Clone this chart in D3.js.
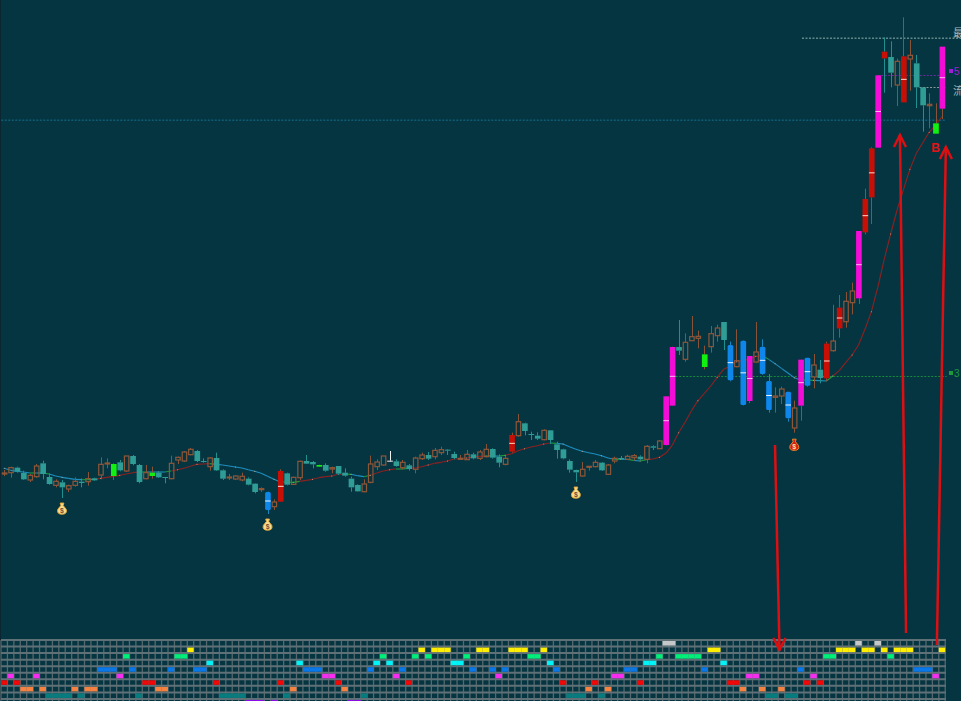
<!DOCTYPE html>
<html lang="zh">
<head>
    <meta charset="UTF-8">
    <title>K线图</title>
    <script src="https://d3js.org/d3.v7.min.js"></script>
    <style>
        body { margin: 0; padding: 0; background-color: #063542; overflow: hidden; }
        svg { display: block; }
        .side-label { font-family: 'Noto Sans CJK SC', sans-serif; font-size: 11px; }
    </style>
</head>
<body>
    <div id="chart"></div>
    <script>
        // candles, one entry per trading slot
        const opens = [
            498,502,517,501,480,490,530,489,464,473,
            453,464,475,475,485,495,528,492,533,507,
            552,525,484,492,502,489,484,540,537,556,
            567,537,520,546,509,487,483,480,484,469,
            451,444,400,415,500,467,487,537,534,520,
            525,513,522,502,484,465,445,473,520,525,
            535,536,517,524,512,544,555,550,562,571,
            558,542,541,557,545,550,573,550,527,565,
            613,650,618,613,601,629,587,572,537,510,
            492,518,520,532,497,537,546,542,547,550,
            542,581,574,585,703,879,842,898,905,819,
            880,913,954,885,820,898,717,834,880,777,
            728,732,745,636,703,847,789,811,785,868,
            935,955,1012,1025,1223,1328,1477,1745,1749,1665,
            1613,1743,1730,1658,1603,1519,1594
        ];
        const closes = [
            501,517,505,482,494,522,498,468,476,458,
            463,476,471,484,479,527,531,528,509,552,
            528,474,502,502,488,486,530,548,564,572,
            537,534,546,509,484,489,492,491,466,444,
            454,390,414,507,466,488,536,529,527,525,
            508,517,499,493,458,446,468,528,534,552,
            538,522,533,513,546,555,544,569,571,568,
            546,545,557,545,564,572,547,532,545,615,
            655,627,615,604,629,600,570,545,511,503,
            512,521,533,509,525,545,543,551,553,542,
            581,577,597,731,879,868,893,910,911,857,
            919,936,900,779,838,705,852,864,798,690,
            732,753,665,696,841,763,825,786,889,897,
            997,1016,1047,1227,1323,1475,1694,1765,1702,1736,
            1751,1754,1658,1604,1607,1550,1780
        ];
        const highs = [
            510,520,520,508,498,528,538,500,482,480,
            466,488,485,504,487,548,545,530,540,552,
            555,528,525,520,505,489,553,550,567,576,
            570,545,548,562,512,498,494,502,488,470,
            458,445,422,512,502,490,538,555,537,526,
            530,520,522,515,490,467,482,553,542,552,
            567,542,540,528,550,562,564,576,580,573,
            565,555,570,562,570,588,575,557,552,622,
            678,652,625,623,632,630,595,574,542,511,
            534,521,540,534,528,550,552,556,558,554,
            585,584,600,732,880,960,920,972,928,883,
            942,946,954,895,932,899,852,954,902,798,
            758,760,745,718,842,847,858,840,895,1006,
            1035,1044,1072,1227,1354,1478,1695,1808,1796,1744,
            1868,1800,1755,1658,1640,1610,1780
        ];
        const lows = [
            492,487,502,480,474,487,482,466,458,426,
            444,460,458,463,477,482,515,480,506,504,
            524,470,482,484,486,470,482,528,534,554,
            534,532,508,507,480,480,480,476,464,440,
            444,378,390,414,464,465,480,528,515,519,
            505,500,495,490,445,445,443,470,510,523,
            534,520,512,508,500,540,540,542,555,555,
            542,540,540,542,540,548,544,518,524,562,
            610,614,600,600,599,588,544,542,502,474,
            490,508,518,507,495,530,540,540,538,540,
            530,570,573,584,702,855,835,898,875,812,
            862,895,870,776,818,704,710,832,796,682,
            682,708,655,622,658,760,755,770,776,865,
            907,937,977,1008,1217,1248,1476,1642,1658,1602,
            1613,1648,1596,1525,1535,1519,1563
        ];
        // moving average
        const avgLine = [
            515,509,506,504,501,501,501,498,492,488,
            485,482,481,481,482,485,488,491,494,498,
            502,504,504,504,504,504,507,511,515,521,
            527,528,529,527,525,522,519,516,511,506,
            500,491,482,474,474,473,476,479,482,487,
            490,492,497,498,497,493,490,494,501,507,
            511,513,513,515,516,520,525,530,533,537,
            543,544,546,549,551,552,552,552,554,559,
            568,574,579,583,588,591,590,588,580,572,
            566,562,558,553,546,542,542,542,539,537,
            541,543,548,560,584,622,653,688,718,740,
            762,788,812,821,835,839,842,851,853,842,
            829,815,801,787,780,780,779,778,777,792,
            808,832,855,885,932,985,1058,1142,1218,1290,
            1352,1412,1460,1492,1523,1545,1570
        ];

        // special candle classes
        const blueBars = [41,113,115,118,119,122,125];
        const magentaBars = [103,104,116,124,133,136,146];
        const redBars = [43,79,128,130,134,135,137,140];
        const greenBars = [17,23,49,109,145];
        const whiteBars = [60];
        const tealWickBars = [137];
        const bagSlots = [9,41,89];
        const redBagSlots = [123];

        // price levels: value, first slot, last slot
        const levelValues = [1807,1695,1659,1561,792];
        const levelFrom = [124.2,136,142.5,-1,104];
        const levelTo = [150,146.5,146.5,146.5,146.7];
        const levelNames = ["white","purple","grey","blue","green"];

        // hand drawn arrows: slot and value at tail and tip
        const arrowTails = [[120,585],[140.4,21],[145.2,-15]];
        const arrowTips = [[120.7,-30],[139.45,1515],[146.6,1479]];

        // strip rows at the bottom, slots switched on in each row
        const stripGrey = [103,104,133,136];
        const stripYellow = [29,65,67,68,69,74,75,79,80,81,84,110,111,130,131,132,134,135,137,139,140,141,146];
        const stripGreen = [19,27,28,59,64,66,72,82,83,102,105,106,107,108,128,129,138];
        const stripCyan = [32,46,58,60,70,71,85,100,101,112];
        const stripBlue = [15,16,17,20,26,30,31,47,48,49,57,62,73,76,78,86,97,98,109,124,142,143,144];
        const stripMagenta = [1,5,18,50,51,61,77,95,96,116,117,126,145];
        const stripRed = [0,2,22,23,33,43,52,63,87,92,99,113,114,125,127];
        const stripOrange = [3,4,6,11,13,14,24,25,45,53,91,94,115,118,121];
        const stripTeal = [7,8,9,10,12,21,34,35,36,37,44,56,88,89,90,93,119,120,122,123];
        const stripPurple = [38,39,40,42,54,55];
        const stripRows = [stripGrey, stripYellow, stripGreen, stripCyan, stripBlue, stripMagenta, stripRed, stripOrange, stripTeal, stripPurple];

        const stripColors = ["#c4c8c8","#ffee00","#00f07a","#00f4f8","#0a78e8","#f82cf0","#f00808","#f58240","#067c7e","#8a0ae8"];
        const levelColors = { white: "#8fb3ae", purple: "#6a2c9c", grey: "#8a9a9a", blue: "#14708e", green: "#178a3a" };

        const width = 961, height = 701;
        const svg = d3.select("#chart").append("svg").attr("width", width).attr("height", height);

        const x = d3.scaleBand().domain(d3.range(opens.length)).range([1, 946]).padding(0.12);
        const y = d3.scaleLinear().domain([0, 1920]).range([640, 0]);
        const step = x.step();
        // centre of a slot, also for fractional slots
        const cx = i => x.range()[0] + step * (i + 0.5);

        svg.append("rect").attr("width", width).attr("height", height).attr("fill", "#063542");
        svg.append("rect").attr("width", 1).attr("height", height).attr("fill", "#0b2630");

        // level lines
        svg.append("g").selectAll("line")
            .data(levelValues)
            .enter().append("line")
            .attr("x1", (d, i) => cx(levelFrom[i]))
            .attr("x2", (d, i) => cx(levelTo[i]))
            .attr("y1", d => y(d) + 0.5)
            .attr("y2", d => y(d) + 0.5)
            .attr("stroke", (d, i) => levelColors[levelNames[i]])
            .attr("stroke-width", 1)
            .attr("stroke-dasharray", "2,1.5");

        // average line, coloured by direction
        const dirs = d3.range(avgLine.length - 1).map(i => Math.sign(avgLine[i + 1] - avgLine[i]));
        const segColor = i => {
            if (i > 0 && dirs[i] !== dirs[i - 1]) return "#1c9a3c";
            return dirs[i] > 0 ? "#8e2020" : "#1d8fc0";
        };
        svg.append("g").selectAll("line")
            .data(dirs)
            .enter().append("line")
            .attr("x1", (d, i) => cx(i))
            .attr("x2", (d, i) => cx(i + 1))
            .attr("y1", (d, i) => y(avgLine[i]))
            .attr("y2", (d, i) => y(avgLine[i + 1]))
            .attr("stroke", (d, i) => segColor(i))
            .attr("stroke-width", 1.1);
        svg.append("g").selectAll("circle")
            .data(d3.range(avgLine.length).filter(i => i % 3 === 0))
            .enter().append("circle")
            .attr("cx", i => cx(i))
            .attr("cy", i => y(avgLine[i]))
            .attr("r", 0.5)
            .attr("fill", "#d8b890");

        // candles
        const kindOf = i => {
            if (blueBars.includes(i)) return "blue";
            if (magentaBars.includes(i)) return "magenta";
            if (redBars.includes(i)) return "red";
            if (greenBars.includes(i)) return "green";
            if (whiteBars.includes(i)) return "white";
            return closes[i] < opens[i] ? "down" : "up";
        };
        const fills = { blue: "#0e86ea", magenta: "#f20cd6", red: "#c80f06", green: "#12f012", white: "#f0f0f0", down: "#2f9d96", up: "none" };
        const wicks = { blue: "#1a86c0", magenta: "#8a5236", red: "#8a5236", green: "#8a5236", white: "#f0f0f0", down: "#1f8f90", up: "#8a5236" };

        const candles = svg.append("g").selectAll("g")
            .data(d3.range(opens.length))
            .enter().append("g");

        candles.append("path")
            .attr("d", i => {
                const top = y(Math.max(opens[i], closes[i])), bot = y(Math.min(opens[i], closes[i]));
                const c = Math.round(cx(i)) + 0.5;
                return `M${c},${y(highs[i])}V${top}M${c},${bot}V${y(lows[i])}`;
            })
            .attr("fill", "none")
            .attr("stroke", i => tealWickBars.includes(i) ? "#1f8f90" : wicks[kindOf(i)])
            .attr("stroke-width", 1);

        candles.append("rect")
            .attr("x", i => kindOf(i) === "up" ? x(i) + 0.6 : x(i))
            .attr("width", i => kindOf(i) === "up" ? x.bandwidth() - 1.2 : x.bandwidth())
            .attr("y", i => y(Math.max(opens[i], closes[i])))
            .attr("height", i => Math.max(1, Math.abs(y(opens[i]) - y(closes[i]))))
            .attr("rx", i => kindOf(i) === "blue" ? 1.5 : 0)
            .attr("fill", i => fills[kindOf(i)])
            .attr("stroke", i => kindOf(i) === "up" ? "#8f5638" : "none")
            .attr("stroke-width", 1.2);

        // pale tick across the long coloured bars
        const tickColor = { blue: "#e8f4ff", magenta: "#ffb0ee", red: "#ffd8d0" };
        svg.append("g").selectAll("rect")
            .data(d3.range(opens.length).filter(i => tickColor[kindOf(i)] && Math.abs(y(opens[i]) - y(closes[i])) > 12))
            .enter().append("rect")
            .attr("x", i => x(i))
            .attr("width", x.bandwidth())
            .attr("y", i => y((opens[i] + closes[i]) / 2) - 0.5)
            .attr("height", 1)
            .attr("fill", i => tickColor[kindOf(i)]);

        // money bags below the low
        const drawBag = (slots, drop, body, rim, mark) => {
            const bags = svg.append("g").selectAll("g")
                .data(slots)
                .enter().append("g")
                .attr("transform", i => `translate(${cx(i)},${y(lows[i]) + drop}) scale(1.15)`);
            bags.append("path")
                .attr("d", "M-1.6,-5.2L1.6,-5.2L1,-3L3.6,0.2Q5,4.4 0,4.6Q-5,4.4 -3.6,0.2L-1,-3Z")
                .attr("fill", body)
                .attr("stroke", rim)
                .attr("stroke-width", 0.8);
            bags.append("text")
                .attr("y", 3.4)
                .attr("text-anchor", "middle")
                .attr("font-family", "'Liberation Sans', sans-serif")
                .attr("font-size", 6)
                .attr("font-weight", "bold")
                .attr("fill", mark)
                .text("$");
        };
        drawBag(bagSlots, 11, "#f6dc8c", "#e8a838", "#7a4a30");
        drawBag(redBagSlots, 12.5, "#d81a10", "#f0902a", "#ffe0a0");

        svg.append("text")
            .attr("x", cx(145))
            .attr("y", y(lows[145]) + 18)
            .attr("text-anchor", "middle")
            .attr("font-family", "'Liberation Sans', sans-serif")
            .attr("font-size", 12)
            .attr("font-weight", "bold")
            .attr("fill", "#e01414")
            .text("B");

        // bottom strip
        const stripY = d3.scaleBand().domain(d3.range(stripRows.length)).range([640, 705.5]);
        const strip = svg.append("g");
        strip.selectAll("line.v")
            .data(d3.range(opens.length + 1))
            .enter().append("line")
            .attr("class", "v")
            .attr("x1", i => 1 + step * i).attr("x2", i => 1 + step * i)
            .attr("y1", 640).attr("y2", height)
            .attr("stroke", "#56686e").attr("stroke-width", 1.3);
        strip.selectAll("line.h")
            .data(stripY.domain())
            .enter().append("line")
            .attr("class", "h")
            .attr("x1", 1).attr("x2", 946)
            .attr("y1", r => stripY(r)).attr("y2", r => stripY(r))
            .attr("stroke", "#5f7076").attr("stroke-width", 2);
        stripRows.forEach((slots, r) => {
            strip.append("g").selectAll("rect")
                .data(slots)
                .enter().append("rect")
                .attr("x", i => 1 + step * i)
                .attr("width", step)
                .attr("y", stripY(r) + 1)
                .attr("height", stripY.bandwidth() - 2)
                .attr("fill", stripColors[r]);
        });

        // red arrows, over the strip
        const arrows = svg.append("g").attr("stroke", "#dc0f12").attr("fill", "none").attr("stroke-width", 2.5);
        arrows.selectAll("line")
            .data(arrowTails)
            .enter().append("line")
            .attr("x1", d => cx(d[0]))
            .attr("y1", d => y(d[1]))
            .attr("x2", (d, i) => cx(arrowTips[i][0]))
            .attr("y2", (d, i) => y(arrowTips[i][1]));
        arrows.selectAll("path")
            .data(arrowTips)
            .enter().append("path")
            .attr("d", (d, i) => {
                // wings trail back toward the tail
                const dir = arrowTails[i][1] > d[1] ? -1 : 1;
                const tx = cx(d[0]), ty = y(d[1]);
                return `M${tx - 6},${ty + dir * 12}L${tx},${ty}L${tx + 6},${ty + dir * 12}`;
            });

        // clipped labels on the right edge
        const sideLabels = [["最", 1810, "#a8b8b8"], ["流", 1635, "#a8b8b8"]];
        svg.append("g").selectAll("text")
            .data(sideLabels)
            .enter().append("text")
            .attr("class", "side-label")
            .attr("x", 953)
            .attr("y", d => y(d[1]))
            .attr("fill", d => d[2])
            .text(d => d[0]);
        const priceTags = [["5", 1707, "#a020d0"], ["3", 801, "#1c9a3c"]];
        const tags = svg.append("g").selectAll("g").data(priceTags).enter().append("g")
            .attr("transform", d => `translate(949,${y(d[1])})`);
        tags.append("rect").attr("y", -2).attr("width", 4).attr("height", 4).attr("fill", d => d[2]);
        tags.append("text")
            .attr("x", 5).attr("y", 4)
            .attr("font-family", "'Liberation Sans', sans-serif")
            .attr("font-size", 10)
            .attr("fill", d => d[2])
            .text(d => d[0]);
    </script>
</body>
</html>
